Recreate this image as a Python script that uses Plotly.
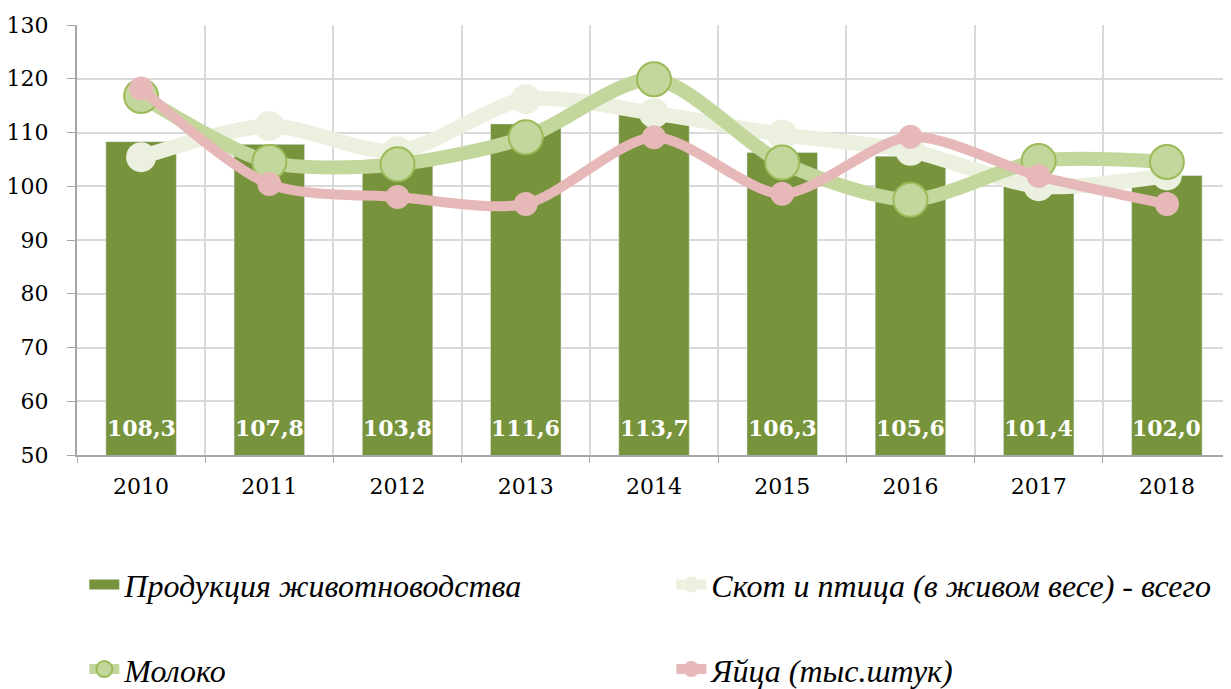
import plotly.graph_objects as go

years = ["2010", "2011", "2012", "2013", "2014", "2015", "2016", "2017", "2018"]
production = [108.3, 107.8, 103.8, 111.6, 113.7, 106.3, 105.6, 101.4, 102.0]
cattle = [105.4, 111.2, 106.5, 116.2, 113.6, 109.6, 106.6, 100.0, 102.0]
milk = [116.8, 104.5, 104.1, 109.1, 119.9, 104.4, 97.5, 104.7, 104.5]
eggs = [118.2, 100.4, 98.0, 96.7, 109.1, 98.6, 109.2, 101.9, 96.7]
bar_labels = [f"{v:.1f}".replace(".", ",") for v in production]

names = ["Продукция животноводства", "Скот и птица (в живом весе) - всего", "Молоко", "Яйца (тыс.штук)"]

BAR = "#77933C"
CATTLE = "#EBF1DE"
MILK = "#C3D69B"
MILK_EDGE = "#9BBB59"
EGGS = "#E6B9B8"
Y_MIN, Y_MAX = 50, 130

fig = go.Figure()
fig.add_trace(go.Bar(
    x=years, y=production, name=names[0], marker_color=BAR, width=0.55,
    showlegend=False,
))
# legend-only entry for the bar series (wide rectangle symbol)
fig.add_trace(go.Scatter(
    x=years[:1], y=[None], name=names[0], mode="lines",
    line=dict(color=BAR, width=18), legend="legend",
))
fig.add_trace(go.Scatter(
    x=years, y=cattle, name=names[1], mode="lines+markers",
    line=dict(color=CATTLE, width=15, shape="spline", smoothing=0.8),
    marker=dict(size=30, color=CATTLE), legend="legend2",
))
fig.add_trace(go.Scatter(
    x=years, y=milk, name=names[2], mode="lines+markers",
    line=dict(color=MILK, width=14, shape="spline", smoothing=0.8),
    marker=dict(size=34, color=MILK, line=dict(color=MILK_EDGE, width=2)), legend="legend3",
))
fig.add_trace(go.Scatter(
    x=years, y=eggs, name=names[3], mode="lines+markers",
    line=dict(color=EGGS, width=10, shape="spline", smoothing=0.8),
    marker=dict(size=24, color=EGGS), legend="legend4",
))

# bar value labels near the bar base (x given as category index)
for i, lab in enumerate(bar_labels):
    fig.add_annotation(x=i, y=Y_MIN, text=f"<b>{lab}</b>", showarrow=False,
                       yanchor="middle", yshift=27,
                       font=dict(family="DejaVu Serif", size=22, color="white"))

legend_font = dict(family="Liberation Serif", size=32, color="black", style="italic")

def leg(x, y):
    return dict(orientation="h", x=x, y=y, xref="container", yref="container",
                xanchor="left", yanchor="middle", font=legend_font,
                bgcolor="rgba(0,0,0,0)", itemwidth=30)

tick_font = dict(family="DejaVu Serif", size=22, color="black")

# page body has an 8px margin: figure is sized/offset to compensate
fig.update_layout(
    width=1223, height=681,
    margin=dict(l=69, r=0, t=17, b=234),
    plot_bgcolor="white", paper_bgcolor="white",
    xaxis=dict(type="category", categoryorder="array", categoryarray=years,
               range=[-0.5, len(years) - 0.5],
               tickson="boundaries", showgrid=True, gridcolor="#D9D9D9",
               gridwidth=2, showline=True, linecolor="#A6A6A6", linewidth=2,
               ticks="outside", ticklen=6, tickcolor="#A6A6A6", automargin=False,
               tickangle=0, ticklabelstandoff=11, tickfont=tick_font),
    yaxis=dict(range=[Y_MIN, Y_MAX], dtick=10, showgrid=True, gridcolor="#D9D9D9", gridwidth=2,
               showline=True, linecolor="#A6A6A6", linewidth=2, ticks="outside", ticklen=8,
               tickcolor="#A6A6A6", zeroline=False, automargin=False,
               ticklabelstandoff=14, tickfont=tick_font),
    legend=leg(0.0624, 0.153),
    legend2=leg(0.5424, 0.153),
    legend3=leg(0.0624, 0.029),
    legend4=leg(0.5424, 0.029),
    showlegend=True,
)

fig.write_html("out.html")
